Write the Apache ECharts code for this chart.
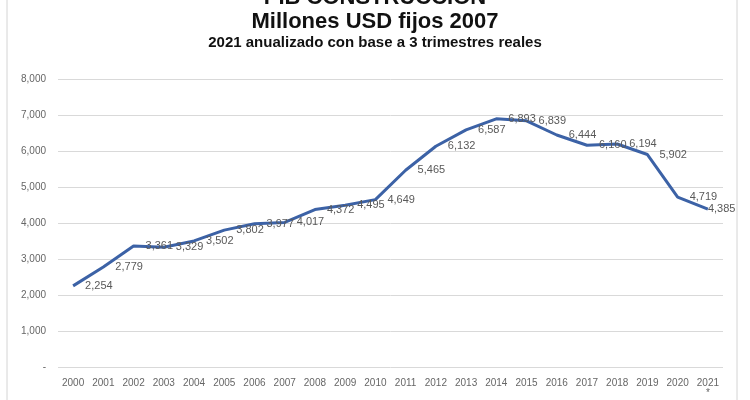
<!DOCTYPE html>
<html>
<head>
<meta charset="utf-8">
<script src="https://cdn.jsdelivr.net/npm/echarts@6/dist/echarts.min.js"></script>
<style>
  html, body { margin: 0; padding: 0; background: #fff; }
  #main { width: 750px; height: 400px; }
</style>
</head>
<body>
<div id="main"></div>
<script>
var years = ['2000','2001','2002','2003','2004','2005','2006','2007','2008','2009','2010',
             '2011','2012','2013','2014','2015','2016','2017','2018','2019','2020','2021'];
var pibConstruccion = [2254, 2779, 3361, 3329, 3502, 3802, 3977, 4017, 4372, 4495, 4649,
                       5465, 6132, 6587, 6893, 6839, 6444, 6160, 6194, 5902, 4719, 4385];
var yTicks = [0, 1000, 2000, 3000, 4000, 5000, 6000, 7000, 8000];

function fmt(v) {
  return v.toLocaleString('en-US');
}

var lastIdx = pibConstruccion.length - 1;

var myChart = echarts.init(document.getElementById('main'));
var option = {
  backgroundColor: '#fff',
  textStyle: { fontFamily: 'Liberation Sans, Arial, sans-serif' },
  title: [{
    text: 'PIB CONSTRUCCIÓN',
    left: 'center',
    top: -18,
    textStyle: { fontSize: 22, fontWeight: 'bold', color: '#111' }
  }, {
    text: 'Millones USD fijos 2007',
    left: 'center',
    top: 6,
    textStyle: { fontSize: 22, fontWeight: 'bold', color: '#111' }
  }, {
    text: '2021 anualizado con base a 3 trimestres reales',
    left: 'center',
    top: 30,
    textStyle: { fontSize: 15, fontWeight: 'bold', color: '#111' }
  }],
  graphic: [{
    type: 'rect',
    shape: { x: 7, y: -5, width: 730, height: 420 },
    style: { fill: 'none', stroke: '#d4d4d4', lineWidth: 1 },
    silent: true
  }],
  grid: { left: 58, right: 27, top: 79, bottom: 33 },
  xAxis: {
    type: 'category',
    data: years,
    boundaryGap: true,
    axisLine: { show: false },
    axisTick: { show: false },
    axisLabel: {
      color: '#666',
      fontSize: 10,
      margin: 11,
      interval: 0,
      formatter: function (v) { return v === '2021' ? v + '\n*' : v; }
    }
  },
  yAxis: {
    type: 'value',
    min: yTicks[0],
    max: yTicks[yTicks.length - 1],
    interval: 1000,
    axisLine: { show: false },
    axisTick: { show: false },
    splitLine: { lineStyle: { color: '#d9d9d9', width: 1 } },
    axisLabel: {
      color: '#666',
      fontSize: 10,
      margin: 12,
      formatter: function (v) { return v === 0 ? '-' : fmt(v); }
    }
  },
  series: [{
    name: 'PIB Construcción',
    type: 'line',
    data: pibConstruccion,
    symbol: 'circle',
    symbolSize: 0,
    lineStyle: { color: '#3c62a6', width: 3 },
    itemStyle: { color: '#3c62a6' },
    label: {
      show: true,
      position: 'right',
      distance: 12,
      offset: [0, 3],
      color: '#595959',
      fontSize: 11,
      formatter: function (p) { return fmt(p.value); }
    },
    // the last label is pulled back onto the point so it stays inside the frame
    labelLayout: function (p) {
      if (p.dataIndex === lastIdx) return { dx: -12, hideOverlap: false };
      return { hideOverlap: false };
    },
    animation: false
  }]
};
myChart.setOption(option);
</script>
</body>
</html>
